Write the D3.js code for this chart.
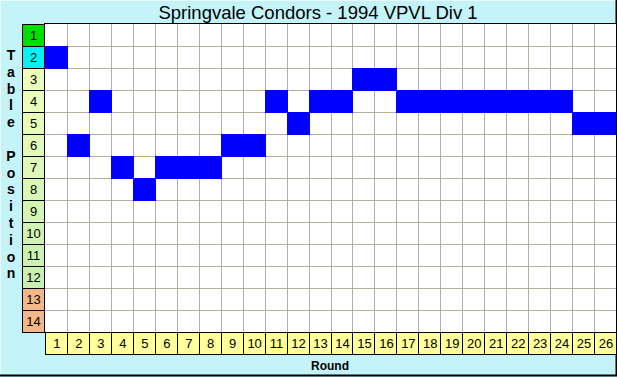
<!DOCTYPE html>
<html>
<head>
<meta charset="UTF-8">
<script src="https://d3js.org/d3.v7.min.js"></script>
<style>
    body { margin: 0; background: #fff; }
    svg { display: block; font-family: Arial, "Liberation Sans", sans-serif; }
</style>
</head>
<body>
<svg width="617" height="377"></svg>
<script>
    // data
    const title = "Springvale Condors - 1994 VPVL Div 1";
    const rounds = d3.range(1, 27);
    const tablePositions = d3.range(1, 15);
    const positionByRound = [2, 6, 4, 7, 8, 7, 7, 7, 6, 6, 4, 5, 4, 4, 3, 3, 4, 4, 4, 4, 4, 4, 4, 4, 5, 5];
    const yTitle = "Table Position";
    const xTitle = "Round";

    const svg = d3.select("svg");
    const W = 617, H = 377;

    // background
    svg.append("rect").attr("width", W).attr("height", H).attr("fill", "#c4f4fa");
    svg.append("path").attr("d", `M0.5,${H} V0.5 H${W}`).attr("stroke", "#e8fcff").attr("fill", "none");
    svg.append("path").attr("d", `M0,${H - 1.5} H${W - 0.5} V0`).attr("stroke", "#000").attr("stroke-width", 2).attr("fill", "none");

    const x = d3.scaleBand().domain(rounds).range([45, 616]);
    const y = d3.scaleBand().domain(tablePositions).range([24, 332]);

    // grid
    const g = svg.append("g");
    g.append("rect").attr("x", 45).attr("y", 24).attr("width", 571).attr("height", 308).attr("fill", "#fff");
    g.selectAll(".vl").data(rounds.slice(1)).enter().append("line")
        .attr("x1", d => Math.round(x(d)) + 0.5).attr("x2", d => Math.round(x(d)) + 0.5)
        .attr("y1", 24).attr("y2", 332).attr("stroke", "#b4ae9e");
    g.selectAll(".hl").data(tablePositions.slice(1)).enter().append("line")
        .attr("y1", d => Math.round(y(d)) + 0.5).attr("y2", d => Math.round(y(d)) + 0.5)
        .attr("x1", 45).attr("x2", 616).attr("stroke", "#b4ae9e");

    // position cells
    g.selectAll(".cell").data(positionByRound).enter().append("rect")
        .attr("x", (d, i) => Math.round(x(rounds[i])))
        .attr("y", d => Math.round(y(d)))
        .attr("width", (d, i) => Math.round(x(rounds[i]) + x.bandwidth()) - Math.round(x(rounds[i])) + 1)
        .attr("height", y.bandwidth() + 1)
        .attr("fill", "#0000ff");

    // left position labels
    const midCol = d3.interpolateRgb("#eeffbc", "#c8f0b0");
    const rowFill = p => p === 1 ? "#00dd00" : p === 2 ? "#00f4f4" : p >= 13 ? "#f4b888" : midCol((p - 3) / 9);
    const lab = svg.append("g").selectAll("g").data(tablePositions).enter().append("g");
    lab.append("rect").attr("x", 22.5).attr("y", d => Math.round(y(d)) + 0.5)
        .attr("width", 22).attr("height", y.bandwidth())
        .attr("fill", rowFill).attr("stroke", "#000");
    lab.append("text").attr("x", 33.5).attr("y", d => y(d) + y.bandwidth() / 2 + 5)
        .attr("text-anchor", "middle").attr("font-size", 13).text(d => d);

    // bottom round labels
    const bl = svg.append("g").selectAll("g").data(rounds).enter().append("g");
    bl.append("rect").attr("x", d => Math.round(x(d)) + 0.5).attr("y", 332.5)
        .attr("width", d => Math.round(x(d) + x.bandwidth()) - Math.round(x(d))).attr("height", 22)
        .attr("fill", "#ffff9c").attr("stroke", "#000");
    bl.append("text").attr("x", d => x(d) + x.bandwidth() / 2 + 1).attr("y", 348)
        .attr("text-anchor", "middle").attr("font-size", 13).text(d => d);

    // frame around grid
    svg.append("rect").attr("x", 44.5).attr("y", 23.5).attr("width", 572).attr("height", 309)
        .attr("fill", "none").attr("stroke", "#000");

    // titles
    svg.append("text").attr("x", 318).attr("y", 19).attr("text-anchor", "middle")
        .attr("font-size", 18.5).text(title);
    svg.append("text").attr("x", 330).attr("y", 370).attr("text-anchor", "middle")
        .attr("font-size", 12).attr("font-weight", "bold").text(xTitle);
    svg.append("g").selectAll("text").data(yTitle.split("")).enter().append("text")
        .attr("x", 11).attr("y", (d, i) => 60 + i * 16.8)
        .attr("text-anchor", "middle").attr("font-size", 14).attr("font-weight", "bold").text(d => d);
</script>
</body>
</html>
